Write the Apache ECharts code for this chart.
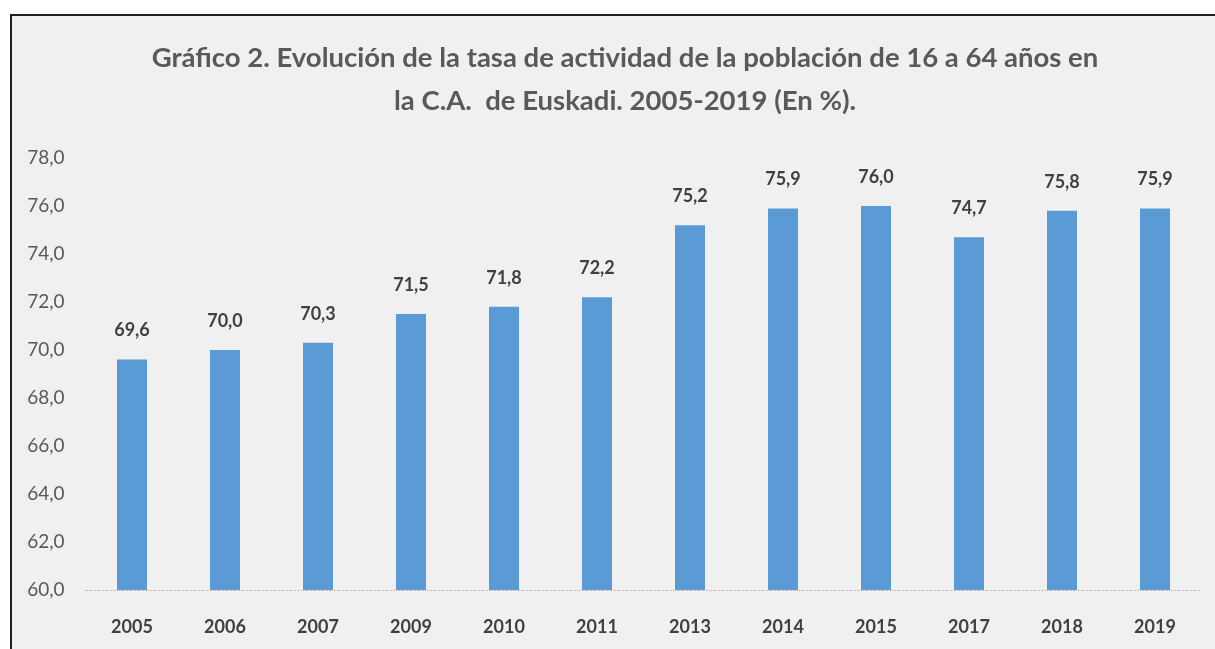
<!DOCTYPE html>
<html lang="es">
<head>
    <meta charset="UTF-8" />
    <title>Gráfico 2</title>
    <script src="https://cdn.jsdelivr.net/npm/echarts@6/dist/echarts.min.js"></script>
    <style>
        html, body { margin: 0; padding: 0; background: #ffffff; }
        #chart { width: 1215px; height: 649px; }
    </style>
</head>
<body>
    <div id="chart"></div>
    <script>
        // datos del gráfico
        const years = ["2005", "2006", "2007", "2009", "2010", "2011", "2013", "2014", "2015", "2017", "2018", "2019"];
        const activityRate = [69.6, 70.0, 70.3, 71.5, 71.8, 72.2, 75.2, 75.9, 76.0, 74.7, 75.8, 75.9];
        const titleLines = [
            "Gráfico 2. Evolución de la tasa de actividad de la población de 16 a 64 años en",
            "la C.A.  de Euskadi. 2005-2019 (En %)."
        ];

        const fmt = v => v.toFixed(1).replace(".", ",");
        const font = "Lato";

        let chart = echarts.init(document.getElementById("chart"));

        let option = {
            backgroundColor: "#ffffff",
            animation: false,
            graphic: [
                {
                    type: "rect",
                    z: -10,
                    shape: { x: 11, y: 15, width: 1220, height: 650 },
                    style: { fill: "#f0f0f0", stroke: "#1e1e1e", lineWidth: 2 }
                }
            ],
            title: {
                text: titleLines.join("\n"),
                left: 620,
                textAlign: "center",
                top: 32,
                textStyle: {
                    fontFamily: font,
                    fontWeight: "bold",
                    fontSize: 27.5,
                    lineHeight: 43,
                    color: "#595959"
                }
            },
            grid: { left: 85.5, right: 13.5, top: 158, bottom: 59 },
            xAxis: {
                type: "category",
                data: years,
                axisLine: { lineStyle: { color: "#d9b8b8", type: [2, 2], width: 1 } },
                axisTick: { show: false },
                axisLabel: {
                    margin: 28,
                    fontFamily: font,
                    fontWeight: "bold",
                    fontSize: 18,
                    color: "#404040"
                }
            },
            yAxis: {
                type: "value",
                min: 60,
                max: 78,
                interval: 2,
                splitLine: { show: false },
                axisLine: { show: false },
                axisTick: { show: false },
                axisLabel: {
                    formatter: v => fmt(v),
                    margin: 21,
                    fontFamily: font,
                    fontSize: 19,
                    color: "#595959"
                }
            },
            series: [
                {
                    type: "bar",
                    data: activityRate,
                    barWidth: 30,
                    itemStyle: { color: "#5b9bd5" },
                    label: {
                        show: true,
                        position: "top",
                        distance: 20,
                        formatter: p => fmt(p.value),
                        fontFamily: font,
                        fontWeight: "bold",
                        fontSize: 18,
                        color: "#404040"
                    }
                }
            ]
        };

        chart.setOption(option);
    </script>
</body>
</html>
